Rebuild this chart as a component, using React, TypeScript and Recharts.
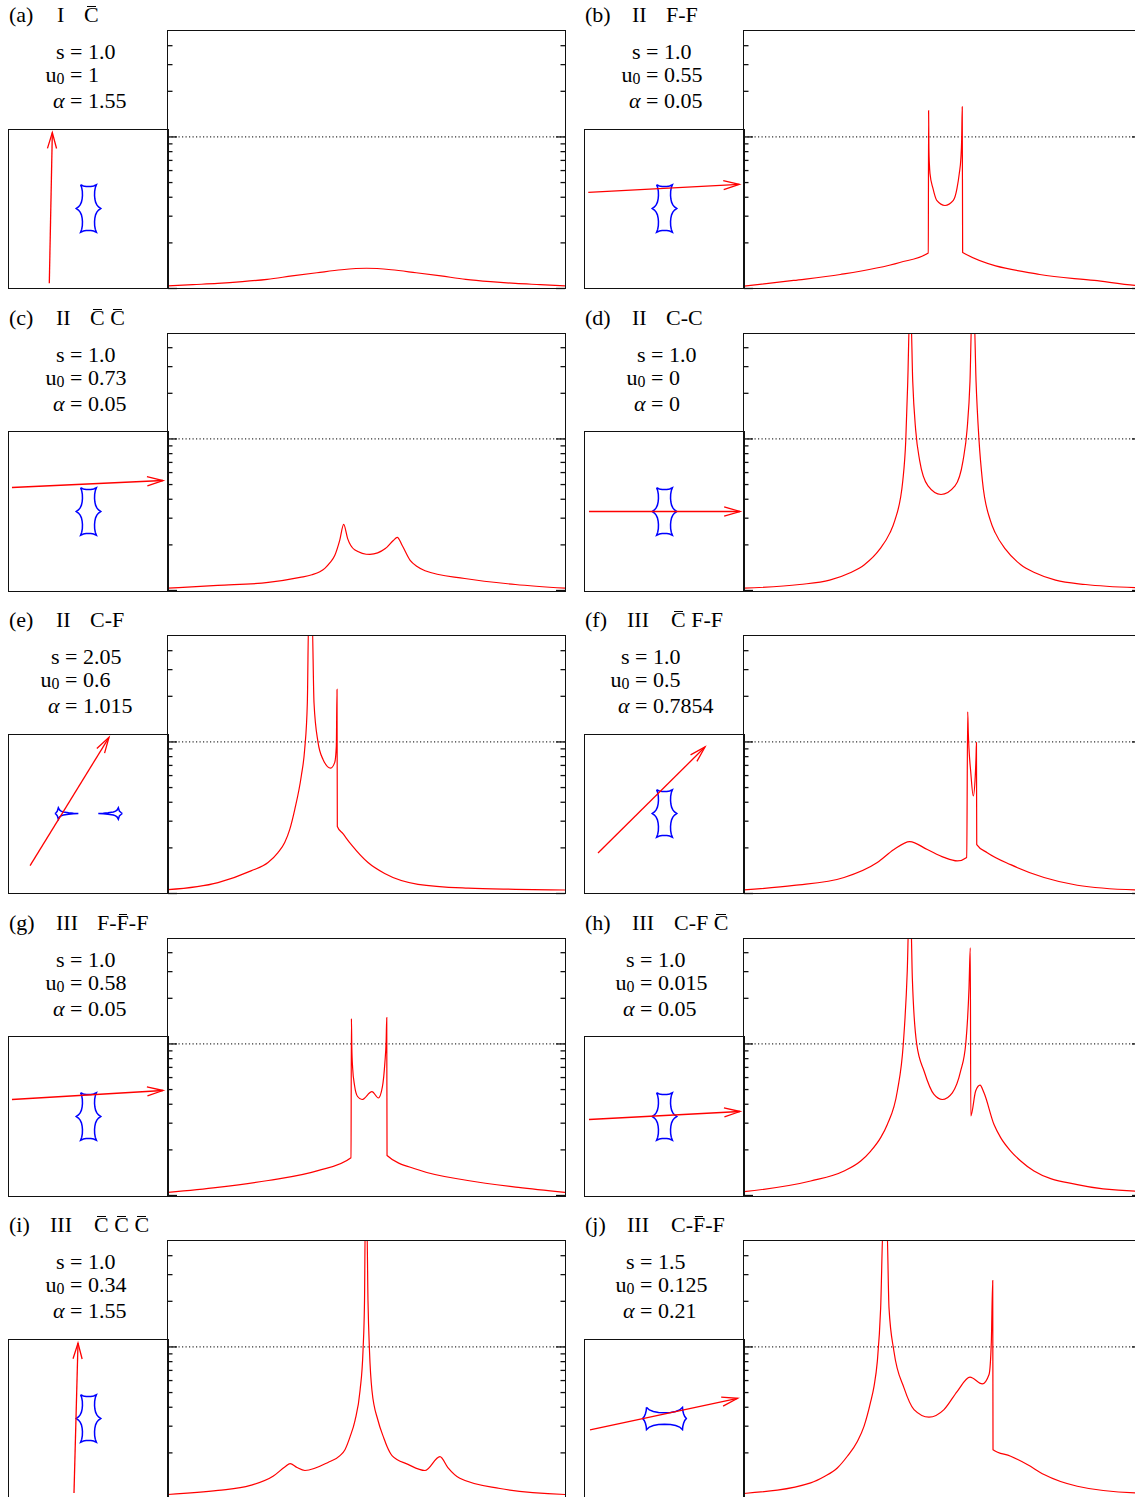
import React from "react";
import { Line, LineChart, ReferenceLine, XAxis, YAxis } from "recharts";

type Pt = [number, number];

// light curves: [t / tE, magnification]
const curveA: Pt[] = [
  [-2, 1.04], [-1.75, 1.06], [-1.5, 1.08], [-1.25, 1.11], [-1, 1.15], [-0.75, 1.21], [-0.5, 1.27],
  [-0.25, 1.33], [0, 1.36], [0.25, 1.33], [0.5, 1.27], [0.75, 1.21], [1, 1.15], [1.25, 1.11],
  [1.5, 1.08], [1.75, 1.06], [2, 1.04],
];
const curveB: Pt[] = [
  [-2, 1.036], [-1.5, 1.13], [-1.03, 1.237], [-0.43, 1.484], [-0.143, 1.717], [-0.14, 14.9],
  [-0.137, 8.5], [-0.132, 6.6], [-0.126, 5.74], [-0.096, 4.57], [-0.058, 3.81], [0.025, 3.53],
  [0.109, 3.81], [0.146, 4.57], [0.169, 5.74], [0.185, 7.2], [0.193, 9.5], [0.199, 15.8],
  [0.203, 1.728], [0.98, 1.237], [1.53, 1.13], [1.94, 1.047], [2, 1.04],
];
const curveC: Pt[] = [
  [-2, 1.036], [-1.5, 1.08], [-0.99, 1.13], [-0.67, 1.22], [-0.55, 1.27], [-0.47, 1.33],
  [-0.42, 1.4], [-0.37, 1.52], [-0.32, 1.7], [-0.27, 2.14], [-0.23, 2.73], [-0.19, 2.2],
  [-0.12, 1.86], [0.035, 1.73], [0.19, 1.89], [0.27, 2.14], [0.31, 2.24], [0.36, 1.98],
  [0.44, 1.58], [0.51, 1.44], [0.59, 1.35], [0.99, 1.2], [1.5, 1.095], [2, 1.036],
];
const curveD: Pt[] = [
  [-2, 1.036], [-1.44, 1.095], [-1.137, 1.17], [-0.93, 1.31], [-0.787, 1.48], [-0.63, 1.88],
  [-0.53, 2.4], [-0.48, 2.9], [-0.4, 5.3], [-0.37, 9.8], [-0.35, 24], [-0.33, 70], [-0.32, 70],
  [-0.3, 24], [-0.27, 11.4], [-0.23, 7.2], [-0.146, 4.9], [-0.015, 4.3], [0.126, 4.9],
  [0.207, 7.2], [0.247, 11.4], [0.277, 24], [0.297, 70], [0.317, 70], [0.338, 24], [0.368, 9.8],
  [0.402, 5.3], [0.482, 2.9], [0.532, 2.4], [0.632, 1.88], [0.789, 1.48], [0.932, 1.31],
  [1.139, 1.17], [1.442, 1.095], [2, 1.04],
];
const curveE: Pt[] = [
  [-2, 1.06], [-1.496, 1.18], [-1.164, 1.41], [-0.992, 1.6], [-0.892, 1.86], [-0.824, 2.17],
  [-0.774, 2.64], [-0.723, 3.58], [-0.657, 5.96], [-0.623, 8.91], [-0.596, 18.2], [-0.582, 70],
  [-0.549, 70], [-0.529, 18.2], [-0.489, 10], [-0.438, 7.67], [-0.361, 6.72], [-0.32, 7.33],
  [-0.304, 9.4], [-0.297, 22.2], [-0.294, 2.77], [-0.237, 2.48], [-0.153, 2.1], [0.015, 1.6],
  [0.183, 1.355], [0.519, 1.15], [1.023, 1.084], [1.5, 1.066], [2, 1.055],
];
const curveF: Pt[] = [
  [-2, 1.056], [-1.496, 1.13], [-0.992, 1.275], [-0.657, 1.6], [-0.489, 1.95], [-0.33, 2.2],
  [-0.153, 1.95], [0.015, 1.73], [0.149, 1.64], [0.244, 1.73], [0.254, 15.8], [0.26, 11.5],
  [0.267, 9.0], [0.284, 6.4], [0.31, 4.4], [0.33, 5.96], [0.338, 8.0], [0.342, 9.9],
  [0.345, 2.1], [0.451, 1.86], [0.687, 1.55], [1.023, 1.275], [1.358, 1.134], [1.94, 1.056],
  [2, 1.053],
];
const curveG: Pt[] = [
  [-2, 1.047], [-1.5, 1.13], [-0.99, 1.256], [-0.49, 1.46], [-0.156, 1.776], [-0.152, 14.7],
  [-0.148, 9.5], [-0.14, 7.0], [-0.12, 5.3], [-0.09, 4.5], [-0.045, 4.3], [0.055, 4.85],
  [0.12, 4.4], [0.16, 5.2], [0.185, 7.5], [0.198, 10.5], [0.204, 14.9], [0.207, 1.836],
  [0.52, 1.48], [1.02, 1.256], [1.53, 1.13], [2, 1.047],
];
const curveH: Pt[] = [
  [-2, 1.059], [-1.328, 1.246], [-0.992, 1.45], [-0.824, 1.69], [-0.723, 1.965], [-0.623, 2.41],
  [-0.556, 2.94], [-0.455, 4.89], [-0.395, 10], [-0.355, 30.3], [-0.338, 70], [-0.32, 70],
  [-0.304, 27.3], [-0.26, 10], [-0.186, 6.63], [-0.086, 4.64], [-0.002, 4.3], [0.099, 4.76],
  [0.183, 6.63], [0.234, 10], [0.267, 23.4], [0.28, 43], [0.285, 3.35], [0.334, 4.89],
  [0.378, 5.35], [0.418, 4.76], [0.519, 2.94], [0.586, 2.41], [0.687, 1.965], [0.788, 1.69],
  [0.922, 1.45], [1.358, 1.18], [1.94, 1.07], [2, 1.067],
];
const curveI: Pt[] = [
  [-2, 1.063], [-1.496, 1.13], [-1.17, 1.22], [-0.942, 1.4], [-0.82, 1.62], [-0.77, 1.7],
  [-0.7, 1.6], [-0.62, 1.53], [-0.388, 1.73], [-0.267, 1.92], [-0.217, 2.1], [-0.166, 2.55],
  [-0.116, 3.27], [-0.065, 5.16], [-0.035, 9.47], [-0.02, 20.2], [-0.012, 70], [0.003, 70],
  [0.015, 20.2], [0.03, 9.47], [0.055, 5.16], [0.116, 3.27], [0.176, 2.49], [0.207, 2.2],
  [0.257, 1.92], [0.418, 1.68], [0.589, 1.53], [0.74, 1.89], [0.82, 1.6], [0.94, 1.36],
  [1.345, 1.164], [2, 1.063],
];
const curveJ: Pt[] = [
  [-2, 1.079], [-1.328, 1.268], [-1.19, 1.397], [-1.06, 1.59], [-0.959, 1.9], [-0.858, 2.38],
  [-0.791, 2.99], [-0.723, 4.37], [-0.69, 5.5], [-0.657, 8.0], [-0.623, 18.1], [-0.596, 70],
  [-0.562, 70], [-0.539, 18.1], [-0.489, 9.33], [-0.388, 5.37], [-0.287, 3.86], [-0.136, 3.44],
  [0.015, 3.86], [0.149, 5.1], [0.277, 6.32], [0.401, 5.7], [0.469, 6.58], [0.492, 10.8],
  [0.506, 27.4], [0.509, 2.1], [0.687, 1.9], [0.854, 1.676], [1.023, 1.44], [1.358, 1.205],
  [1.94, 1.089], [2, 1.086],
];

// caustics in the source plane
const causticS1: Pt[] = [
  [-0.2, 0.6], [-0.13, 0.568], [-0.06, 0.556], [0, 0.553], [0.06, 0.556], [0.13, 0.568], [0.2, 0.6],
  [0.17, 0.52], [0.155, 0.43], [0.152, 0.33], [0.16, 0.24], [0.178, 0.16], [0.21, 0.09], [0.253, 0.04], [0.31, 0],
  [0.253, -0.04], [0.21, -0.09], [0.178, -0.16], [0.16, -0.24], [0.152, -0.33], [0.155, -0.43], [0.17, -0.52], [0.2, -0.6],
  [0.13, -0.568], [0.06, -0.556], [0, -0.553], [-0.06, -0.556], [-0.13, -0.568], [-0.2, -0.6],
  [-0.17, -0.52], [-0.155, -0.43], [-0.152, -0.33], [-0.16, -0.24], [-0.178, -0.16], [-0.21, -0.09], [-0.253, -0.04], [-0.31, 0],
  [-0.253, 0.04], [-0.21, 0.09], [-0.178, 0.16], [-0.16, 0.24], [-0.152, 0.33], [-0.155, 0.43], [-0.17, 0.52], [-0.2, 0.6],
];
const causticWideL: Pt[] = [
  [-0.843, 0], [-0.81, 0.025], [-0.785, 0.06], [-0.759, 0.147], [-0.73, 0.09], [-0.69, 0.058],
  [-0.633, 0.04], [-0.5, 0.02], [-0.38, 0.008], [-0.256, 0], [-0.38, -0.008], [-0.5, -0.02],
  [-0.633, -0.04], [-0.69, -0.058], [-0.73, -0.09], [-0.759, -0.147], [-0.785, -0.06], [-0.81, -0.025],
  [-0.843, 0],
];
const causticWideR: Pt[] = [
  [0.851, 0], [0.818, 0.025], [0.777, 0.06], [0.751, 0.147], [0.722, 0.09], [0.682, 0.058],
  [0.625, 0.04], [0.492, 0.02], [0.372, 0.008], [0.247, 0], [0.372, -0.008], [0.492, -0.02],
  [0.625, -0.04], [0.682, -0.058], [0.722, -0.09], [0.751, -0.147], [0.777, -0.06], [0.818, -0.025],
  [0.851, 0],
];
const causticS15: Pt[] = [
  [-0.453, 0.28], [-0.38, 0.215], [-0.28, 0.175], [-0.15, 0.152], [0, 0.143], [0.15, 0.152], [0.28, 0.175], [0.38, 0.215], [0.453, 0.28],
  [0.46, 0.2], [0.48, 0.12], [0.51, 0.05], [0.55, 0],
  [0.51, -0.05], [0.48, -0.12], [0.46, -0.2], [0.453, -0.28],
  [0.38, -0.215], [0.28, -0.175], [0.15, -0.152], [0, -0.143], [-0.15, -0.152], [-0.28, -0.175], [-0.38, -0.215], [-0.453, -0.28],
  [-0.46, -0.2], [-0.48, -0.12], [-0.51, -0.05], [-0.55, 0],
  [-0.51, 0.05], [-0.48, 0.12], [-0.46, 0.2], [-0.453, 0.28],
];

// source trajectories: [start, end]
const trajA: Pt[] = [[-0.986, -1.88], [-0.91, 1.91]];
const trajB: Pt[] = [[-1.917, 0.408], [1.882, 0.609]];
const trajC: Pt[] = [[-1.925, 0.604], [1.874, 0.78]];
const trajD: Pt[] = [[-1.9, 0], [1.9, 0]];
const trajE: Pt[] = [[-1.47, -1.31], [0.516, 1.917]];
const trajF: Pt[] = [[-1.673, -0.994], [1.019, 1.673]];
const trajG: Pt[] = [[-1.925, 0.428], [1.874, 0.654]];
const trajH: Pt[] = [[-1.9, -0.075], [1.9, 0.126]];
const trajI: Pt[] = [[-0.365, -1.874], [-0.264, 1.899]];
const trajJ: Pt[] = [[-1.874, -0.289], [1.84, 0.508]];

const Y_TICKS = [1, 2, 3, 4, 5, 6, 7, 8, 9, 10, 20, 30, 40];

const PANELS = [
  { tag: "(a)", cls: "I", kind: "~C", s: "1.0", u0: "1", alpha: "1.55", clsX: 57, kindX: 84, eqX: 70, curve: curveA, caustics: [causticS1], traj: trajA },
  { tag: "(b)", cls: "II", kind: "F-F", s: "1.0", u0: "0.55", alpha: "0.05", clsX: 632, kindX: 666, eqX: 646, curve: curveB, caustics: [causticS1], traj: trajB },
  { tag: "(c)", cls: "II", kind: "~C ~C", s: "1.0", u0: "0.73", alpha: "0.05", clsX: 56, kindX: 90, eqX: 70, curve: curveC, caustics: [causticS1], traj: trajC },
  { tag: "(d)", cls: "II", kind: "C-C", s: "1.0", u0: "0", alpha: "0", clsX: 632, kindX: 666, eqX: 651, curve: curveD, caustics: [causticS1], traj: trajD },
  { tag: "(e)", cls: "II", kind: "C-F", s: "2.05", u0: "0.6", alpha: "1.015", clsX: 56, kindX: 90, eqX: 65, curve: curveE, caustics: [causticWideL, causticWideR], traj: trajE },
  { tag: "(f)", cls: "III", kind: "~C F-F", s: "1.0", u0: "0.5", alpha: "0.7854", clsX: 627, kindX: 671, eqX: 635, curve: curveF, caustics: [causticS1], traj: trajF },
  { tag: "(g)", cls: "III", kind: "F-~F-F", s: "1.0", u0: "0.58", alpha: "0.05", clsX: 56, kindX: 97, eqX: 70, curve: curveG, caustics: [causticS1], traj: trajG },
  { tag: "(h)", cls: "III", kind: "C-F ~C", s: "1.0", u0: "0.015", alpha: "0.05", clsX: 632, kindX: 674, eqX: 640, curve: curveH, caustics: [causticS1], traj: trajH },
  { tag: "(i)", cls: "III", kind: "~C ~C ~C", s: "1.0", u0: "0.34", alpha: "1.55", clsX: 50, kindX: 94, eqX: 70, curve: curveI, caustics: [causticS1], traj: trajI },
  { tag: "(j)", cls: "III", kind: "C-~F-F", s: "1.5", u0: "0.125", alpha: "0.21", clsX: 627, kindX: 671, eqX: 640, curve: curveJ, caustics: [causticS15], traj: trajJ },
];

const PAGE_W = 1135;
const ROW = 302.5;
const TOP0 = 30.8;
const MAIN_W = 397;
const MAIN_H = 257.5;
const INSET = 159;
const PAD = 4;
const MAIN_X = [168, 744];
const INSET_X = [9, 585];
const FRAME = "#111";

function arrowHead(traj: Pt[]): Pt[] {
  const [[x0, y0], [x1, y1]] = traj;
  const d = Math.hypot(x1 - x0, y1 - y0);
  const ux = (x1 - x0) / d;
  const uy = (y1 - y0) / d;
  const len = 0.415;
  const a = (16 * Math.PI) / 180;
  const side = (s: number): Pt => {
    const c = Math.cos(s * a);
    const sn = Math.sin(s * a);
    return [x1 - len * (ux * c - uy * sn), y1 - len * (ux * sn + uy * c)];
  };
  return [side(1), [x1, y1], side(-1)];
}

const toXY = (pts: Pt[]) => pts.map(([x, y]) => ({ x, y }));

// inward ticks: long at decades, short in between
const logTick = (side: "l" | "r") => (p: any) => {
  const v = p.payload?.value;
  const len = v === 1 || v === 10 ? 9 : 4.5;
  const x2 = side === "l" ? p.x + len : p.x - len;
  return <line x1={p.x} y1={p.y} x2={x2} y2={p.y} stroke={FRAME} strokeWidth={1.3} />;
};

function Frame({ w, h }: { w: number; h: number }) {
  return (
    <div
      style={{
        position: "absolute",
        left: PAD - 0.75,
        top: PAD - 0.75,
        width: w + 1.5,
        height: h + 1.5,
        border: `1.5px solid ${FRAME}`,
        boxSizing: "border-box",
        pointerEvents: "none",
      }}
    />
  );
}

function LightCurve({ curve, left, top }: { curve: Pt[]; left: number; top: number }) {
  const data = curve.map(([t, A]) => ({ t, A }));
  return (
    <div style={{ position: "absolute", left: left - PAD, top: top - PAD }}>
      <LineChart width={MAIN_W + 2 * PAD} height={MAIN_H + 2 * PAD} margin={{ top: PAD, right: 0, bottom: PAD, left: 0 }}>
        <XAxis type="number" dataKey="t" domain={[-2, 2]} hide allowDataOverflow />
        <YAxis yAxisId="l" type="number" scale="log" domain={[1, 50]} ticks={Y_TICKS} interval={0} width={PAD}
          axisLine={false} tickLine={false} tickSize={0} tickMargin={0} allowDataOverflow tick={logTick("l")} />
        <YAxis yAxisId="r" orientation="right" type="number" scale="log" domain={[1, 50]} ticks={Y_TICKS} interval={0} width={PAD}
          axisLine={false} tickLine={false} tickSize={0} tickMargin={0} allowDataOverflow tick={logTick("r")} />
        <ReferenceLine yAxisId="l" y={10} stroke="#333" strokeWidth={1.2} strokeDasharray="1.2 2.3" />
        <Line yAxisId="l" data={data} dataKey="A" type="monotone" stroke="#ff0000" strokeWidth={1.2}
          dot={false} isAnimationActive={false} />
      </LineChart>
      <Frame w={MAIN_W} h={MAIN_H} />
    </div>
  );
}

function Inset({ caustics, traj, left, top }: { caustics: Pt[][]; traj: Pt[]; left: number; top: number }) {
  return (
    <div style={{ position: "absolute", left: left - PAD, top: top - PAD }}>
      <LineChart width={INSET + 2 * PAD} height={INSET + 2 * PAD} margin={{ top: PAD, right: PAD, bottom: PAD, left: PAD }}>
        <XAxis type="number" dataKey="x" domain={[-2, 2]} hide allowDataOverflow />
        <YAxis type="number" domain={[-2, 2]} hide allowDataOverflow />
        {caustics.map((c, i) => (
          <Line key={i} data={toXY(c)} dataKey="y" type="linear" stroke="#0000ff" strokeWidth={1.5}
            dot={false} isAnimationActive={false} />
        ))}
        <Line data={toXY(traj)} dataKey="y" type="linear" stroke="#ff0000" strokeWidth={1.3}
          dot={false} isAnimationActive={false} />
        <Line data={toXY(arrowHead(traj))} dataKey="y" type="linear" stroke="#ff0000" strokeWidth={1.3}
          dot={false} isAnimationActive={false} />
      </LineChart>
      <Frame w={INSET} h={INSET} />
    </div>
  );
}

function Bar({ ch }: { ch: string }) {
  return (
    <span style={{ position: "relative", display: "inline-block" }}>
      {ch}
      <span style={{ position: "absolute", left: "18%", right: "18%", top: 2, borderTop: "1.3px solid #000" }} />
    </span>
  );
}

function Kind({ text }: { text: string }) {
  const parts: React.ReactNode[] = [];
  for (let i = 0; i < text.length; i++) {
    if (text[i] === "~") {
      parts.push(<Bar key={i} ch={text[i + 1]} />);
      i++;
    } else {
      parts.push(text[i]);
    }
  }
  return <>{parts}</>;
}

const abs = (left: number, top: number): React.CSSProperties => ({
  position: "absolute",
  left,
  top,
  lineHeight: "22px",
  whiteSpace: "pre",
});

function Param({ eqX, top, name, value }: { eqX: number; top: number; name: React.ReactNode; value: string }) {
  return (
    <>
      <div style={{ position: "absolute", right: PAGE_W - (eqX - 5.5), top, lineHeight: "22px", whiteSpace: "pre" }}>{name}</div>
      <div style={abs(eqX, top)}>= {value}</div>
    </>
  );
}

export default function App() {
  return (
    <div
      style={{
        position: "relative",
        width: PAGE_W,
        height: 1497,
        overflow: "hidden",
        background: "#fff",
        color: "#000",
        fontFamily: '"Liberation Serif", "Times New Roman", serif',
        fontSize: 22,
      }}
    >
      <style>{"body{margin:0}"}</style>
      {PANELS.map((p, i) => {
        const col = i % 2;
        const row = Math.floor(i / 2);
        const top = TOP0 + row * ROW;
        const ty = row * ROW;
        return (
          <React.Fragment key={p.tag}>
            <div style={abs(INSET_X[col], 4 + ty)}>{p.tag}</div>
            <div style={abs(p.clsX, 4 + ty)}>{p.cls}</div>
            <div style={abs(p.kindX, 4 + ty)}>
              <Kind text={p.kind} />
            </div>
            <Param eqX={p.eqX} top={41 + ty} name="s" value={p.s} />
            <Param
              eqX={p.eqX}
              top={64 + ty}
              name={
                <>
                  u<sub style={{ fontSize: "0.72em", verticalAlign: "-0.15em", lineHeight: 0 }}>0</sub>
                </>
              }
              value={p.u0}
            />
            <Param eqX={p.eqX} top={90 + ty} name={<i>α</i>} value={p.alpha} />
            <LightCurve curve={p.curve} left={MAIN_X[col]} top={top} />
            <Inset caustics={p.caustics} traj={p.traj} left={INSET_X[col]} top={top + MAIN_H - INSET} />
          </React.Fragment>
        );
      })}
    </div>
  );
}
